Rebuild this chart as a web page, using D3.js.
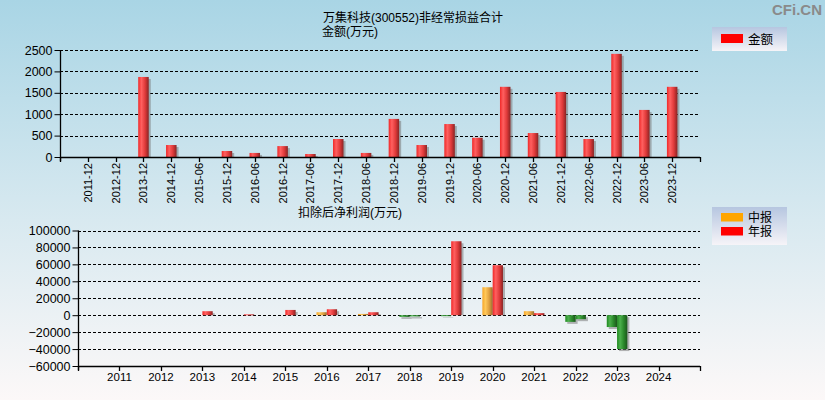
<!DOCTYPE html>
<html>
<head>
<meta charset="utf-8">
<script src="https://cdn.jsdelivr.net/npm/d3@7"></script>
<style>
  html, body { margin: 0; padding: 0; }
  body { width: 825px; height: 400px; overflow: hidden; }
  svg text { font-family: "Liberation Sans", Arial, "Noto Sans CJK SC", sans-serif; fill: #000; }
</style>
</head>
<body>
<div id="chart"></div>
<script>
// 非经常损益合计 (万元)
const periods = ['2011-12', '2012-12', '2013-12', '2014-12', '2015-06', '2015-12', '2016-06', '2016-12',
  '2017-06', '2017-12', '2018-06', '2018-12', '2019-06', '2019-12', '2020-06', '2020-12',
  '2021-06', '2021-12', '2022-06', '2022-12', '2023-06', '2023-12'];
const amounts = [0, 0, 1870, 280, 0, 140, 95, 255, 70, 420, 95, 890, 280, 770, 450, 1640,
  560, 1520, 420, 2410, 1100, 1640];
const amountTicks = [0, 500, 1000, 1500, 2000, 2500];

// 扣除后净利润 (万元)
const years = ['2011', '2012', '2013', '2014', '2015', '2016', '2017', '2018', '2019', '2020',
  '2021', '2022', '2023', '2024'];
const midProfit = [null, null, null, null, null, 3500, 1500, -2000, -500, 33000, 4700, -7900, -14000, null];
const yearProfit = [null, null, 4700, 1000, 6200, 7000, 3500, -1500, 87300, 59000, 2400, -4700, -40000, null];
const profitTicks = [-60000, -40000, -20000, 0, 20000, 40000, 60000, 80000, 100000];

const W = 825, H = 400;
const svg = d3.select('#chart').append('svg').attr('width', W).attr('height', H);
const defs = svg.append('defs');

const bg = defs.append('linearGradient').attr('id', 'bg').attr('x1', 0).attr('y1', 0).attr('x2', 0).attr('y2', 1);
bg.append('stop').attr('offset', '0%').attr('stop-color', '#a9d5e5');
bg.append('stop').attr('offset', '55%').attr('stop-color', '#d8e9f0');
bg.append('stop').attr('offset', '100%').attr('stop-color', '#fcf8f8');
svg.append('rect').attr('width', W).attr('height', H).attr('fill', 'url(#bg)');

// cylinder-like bar fills
function barGrad(id, c0, c1, c2, c3) {
  const g = defs.append('linearGradient').attr('id', id).attr('x1', 0).attr('y1', 0).attr('x2', 1).attr('y2', 0);
  g.append('stop').attr('offset', '0%').attr('stop-color', c0);
  g.append('stop').attr('offset', '30%').attr('stop-color', c1);
  g.append('stop').attr('offset', '65%').attr('stop-color', c2);
  g.append('stop').attr('offset', '100%').attr('stop-color', c3);
}
barGrad('gRed', '#f02828', '#ff6060', '#e03a3a', '#8a2424');
barGrad('gOrange', '#f6a628', '#ffc85a', '#e0a040', '#9a7030');
barGrad('gGreen', '#1f8a1f', '#4cb04c', '#2a882a', '#1c561c');

const leg = defs.append('linearGradient').attr('id', 'legBg').attr('x1', 0).attr('y1', 0).attr('x2', 0).attr('y2', 1);
leg.append('stop').attr('offset', '0%').attr('stop-color', '#b6c6e0');
leg.append('stop').attr('offset', '100%').attr('stop-color', '#f6f4f8');

// watermark
svg.append('text').attr('x', 822).attr('y', 15).attr('text-anchor', 'end')
  .style('font-size', '15px').style('font-weight', 'bold').style('fill', '#8a8a8a').text('CFi.CN');

// titles
svg.append('text').attr('x', 323).attr('y', 22).style('font-size', '12px')
  .text('万集科技(300552)非经常损益合计');
svg.append('text').attr('x', 322).attr('y', 36).style('font-size', '12px')
  .text('金额(万元)');
svg.append('text').attr('x', 298).attr('y', 217).style('font-size', '12px')
  .text('扣除后净利润(万元)');

function drawGrid(g, y, ticks, x0, x1, skipBottom) {
  g.selectAll('line.grid').data(ticks.filter((t, i) => !(skipBottom && i === 0))).join('line')
    .attr('class', 'grid')
    .attr('x1', x0).attr('x2', x1)
    .attr('y1', (d) => Math.round(y(d)) + 0.5).attr('y2', (d) => Math.round(y(d)) + 0.5)
    .attr('stroke', '#000').attr('stroke-width', 1).attr('stroke-dasharray', '3,2');
}

function drawYAxis(g, y, ticks, x0, fs) {
  const ax = g.append('g').attr('transform', `translate(${x0 + 0.5},0)`)
    .call(d3.axisLeft(y).tickValues(ticks).tickSize(6).tickPadding(2).tickFormat(d3.format('d')));
  ax.select('.domain').remove();
  ax.selectAll('text').style('font-size', fs).attr('fill', '#000');
  ax.selectAll('line').attr('stroke', '#000');
}

function shadowRect(g, x, y0, w, h) {
  g.append('rect').attr('x', x + 2).attr('y', y0 + 2).attr('width', w).attr('height', Math.max(0, h))
    .attr('fill', '#7a7a7a').attr('opacity', 0.55);
}

// ---------- top chart ----------
const topBox = { x0: 60, x1: 700, y0: 50, y1: 157 };
const xTop = d3.scalePoint().domain(periods).range([topBox.x0, topBox.x1]).padding(1);
const yTop = d3.scaleLinear().domain([0, 2500]).range([topBox.y1, topBox.y0]);
const gTop = svg.append('g');

drawGrid(gTop, yTop, amountTicks, topBox.x0, topBox.x1, true);
drawYAxis(gTop, yTop, amountTicks, topBox.x0, '12.5px');

const bw = 10.5;
periods.forEach((p, i) => {
  const v = amounts[i];
  if (!v) return;
  const x = xTop(p) - bw / 2;
  const yv = yTop(v);
  const h = yTop(0) - yv;
  shadowRect(gTop, x, yv, bw, h - 2);
  gTop.append('rect').attr('x', x).attr('y', yv).attr('width', bw).attr('height', h).attr('fill', 'url(#gRed)');
});

// axes lines
gTop.append('line').attr('x1', topBox.x0 + 0.5).attr('x2', topBox.x0 + 0.5).attr('y1', topBox.y0).attr('y2', topBox.y1 + 4)
  .attr('stroke', '#000').attr('stroke-width', 1.3);
gTop.append('line').attr('x1', topBox.x0).attr('x2', topBox.x1).attr('y1', topBox.y1 + 0.5).attr('y2', topBox.y1 + 0.5)
  .attr('stroke', '#000').attr('stroke-width', 1.5);
const xTicksTop = [topBox.x0, ...periods.map((p) => xTop(p)), topBox.x1];
gTop.selectAll('line.xt').data(xTicksTop).join('line').attr('class', 'xt')
  .attr('x1', (d) => Math.round(d) + 0.5).attr('x2', (d) => Math.round(d) + 0.5)
  .attr('y1', topBox.y1).attr('y2', topBox.y1 + 5).attr('stroke', '#000').attr('stroke-width', 1.3);
gTop.selectAll('text.xl').data(periods).join('text').attr('class', 'xl')
  .attr('transform', (d) => `translate(${xTop(d) + 4},${topBox.y1 + 6}) rotate(-90)`)
  .attr('text-anchor', 'end').style('font-size', '11px').text((d) => d);

// legend top
svg.append('rect').attr('x', 712).attr('y', 27).attr('width', 75).attr('height', 24).attr('fill', 'url(#legBg)');
svg.append('rect').attr('x', 721).attr('y', 34).attr('width', 22).attr('height', 9).attr('fill', '#ff0000');
svg.append('text').attr('x', 748).attr('y', 44).style('font-size', '12.5px').text('金额');

// ---------- bottom chart ----------
const botBox = { x0: 78, x1: 700, y0: 230.5, y1: 366 };
const xBot = d3.scalePoint().domain(years).range([botBox.x0, botBox.x1]).padding(1);
const yBot = d3.scaleLinear().domain([-60000, 100000]).range([botBox.y1, botBox.y0]);
const gBot = svg.append('g');

drawGrid(gBot, yBot, profitTicks, botBox.x0, botBox.x1, true);
drawYAxis(gBot, yBot, profitTicks, botBox.x0, '12.5px');

const bw2 = 10.3;
function drawProfitBar(v, x, fillPos) {
  if (v === null || v === undefined) return;
  const y0 = yBot(0);
  const yv = yBot(v);
  const fill = v < 0 ? 'url(#gGreen)' : fillPos;
  if (v >= 0) {
    shadowRect(gBot, x, yv, bw2, y0 - yv - 2);
    gBot.append('rect').attr('x', x).attr('y', yv).attr('width', bw2).attr('height', Math.max(1, y0 - yv)).attr('fill', fill);
  } else {
    shadowRect(gBot, x, y0, bw2, yv - y0);
    gBot.append('rect').attr('x', x).attr('y', y0).attr('width', bw2).attr('height', Math.max(1, yv - y0)).attr('fill', fill);
  }
}
years.forEach((yr, i) => {
  const cx = xBot(yr);
  drawProfitBar(midProfit[i], cx - bw2, 'url(#gOrange)');
  drawProfitBar(yearProfit[i], cx, 'url(#gRed)');
});

gBot.append('line').attr('x1', botBox.x0 + 0.5).attr('x2', botBox.x0 + 0.5).attr('y1', botBox.y0).attr('y2', botBox.y1 + 4)
  .attr('stroke', '#000').attr('stroke-width', 1.3);
gBot.append('line').attr('x1', botBox.x0).attr('x2', botBox.x1).attr('y1', botBox.y1 + 0.5).attr('y2', botBox.y1 + 0.5)
  .attr('stroke', '#000').attr('stroke-width', 1.5);
const xTicksBot = [botBox.x0, ...years.map((y) => xBot(y)), botBox.x1];
gBot.selectAll('line.xt').data(xTicksBot).join('line').attr('class', 'xt')
  .attr('x1', (d) => Math.round(d) + 0.5).attr('x2', (d) => Math.round(d) + 0.5)
  .attr('y1', botBox.y1).attr('y2', botBox.y1 + 5).attr('stroke', '#000').attr('stroke-width', 1.3);
gBot.selectAll('text.xl').data(years).join('text').attr('class', 'xl')
  .attr('x', (d) => xBot(d)).attr('y', botBox.y1 + 15)
  .attr('text-anchor', 'middle').style('font-size', '11.5px').text((d) => d);

// legend bottom
svg.append('rect').attr('x', 712).attr('y', 207).attr('width', 75).attr('height', 38).attr('fill', 'url(#legBg)');
svg.append('rect').attr('x', 721).attr('y', 213).attr('width', 22).attr('height', 8.5).attr('fill', '#ffa500');
svg.append('rect').attr('x', 721).attr('y', 227).attr('width', 22).attr('height', 8.5).attr('fill', '#ff0000');
svg.append('text').attr('x', 748).attr('y', 222).style('font-size', '12px').text('中报');
svg.append('text').attr('x', 748).attr('y', 236).style('font-size', '12px').text('年报');
</script>
</body>
</html>
